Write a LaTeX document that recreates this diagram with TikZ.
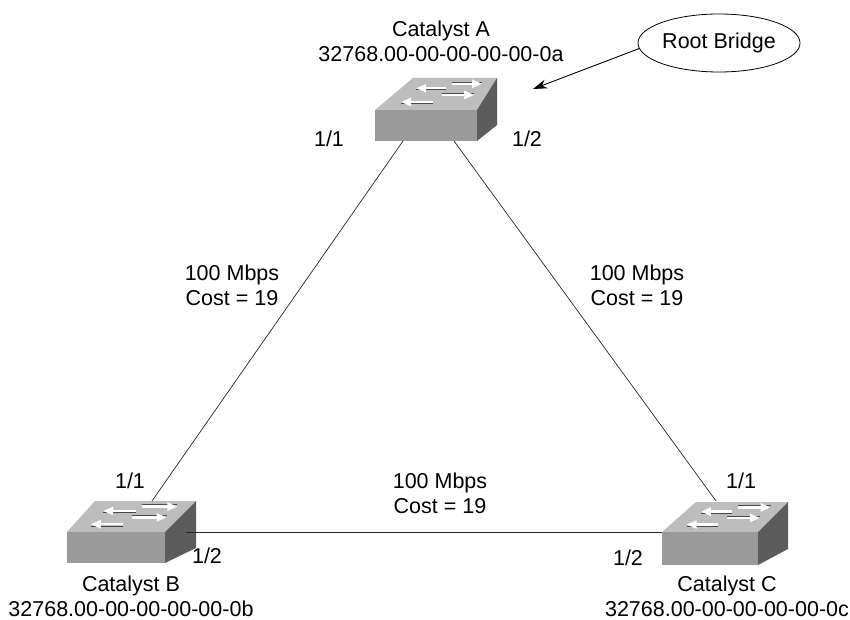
\documentclass[tikz,border=0pt]{standalone}
\usepackage{fontspec}
\setmainfont{Liberation Sans}
\usetikzlibrary{calc,shapes.geometric,arrows.meta}
\definecolor{swtop}{HTML}{BDBDBD}
\definecolor{swfront}{HTML}{9A9A9A}
\definecolor{swside}{HTML}{5C5C5C}
\definecolor{swshadow}{HTML}{4A4A4A}
\tikzset{
  topface/.style={fill=swtop},
  frontface/.style={fill=swfront},
  sideface/.style={fill=swside},
  shadowline/.style={draw=swshadow, line width=0.9pt},
  whitearrow/.style={draw=white, line width=2.4pt, -{Triangle[length=10pt,width=8pt]}},
  link/.style={draw=black!85, line width=0.7pt},
  lbl/.style={font=\fontsize{21.5}{25}\selectfont, inner sep=0pt, align=center},
  rootbox/.style={ellipse, draw, line width=0.8pt, minimum width=162pt, minimum height=58pt, inner sep=0pt, font=\fontsize{21.5}{25}\selectfont},
  pointer/.style={draw=black, line width=0.9pt, -{Stealth[length=14pt,width=9pt]}}
}
% name, utail, utip, v, shadow shift
\newcommand\swarr[5]{%
  \coordinate (t1) at ($(#1FL)!#2!(#1FR)$);
  \coordinate (t2) at ($(#1BL)!#2!(#1BR)$);
  \coordinate (ta) at ($(t1)!#4!(t2)$);
  \coordinate (h1) at ($(#1FL)!#3!(#1FR)$);
  \coordinate (h2) at ($(#1BL)!#3!(#1BR)$);
  \coordinate (tb) at ($(h1)!#4!(h2)$);
  \draw[shadowline] ([yshift=#5]ta) -- ([yshift=#5]tb);
  \draw[whitearrow] (ta) -- (tb);
}
% name, FLx, FLy, FRx, BLx, BLy, BRx, front bottom y, side bottom y
\newcommand\drawswitch[9]{%
  \coordinate (#1FL) at (#2,#3);
  \coordinate (#1FR) at (#4,#3);
  \coordinate (#1BL) at (#5,#6);
  \coordinate (#1BR) at (#7,#6);
  \coordinate (#1FLb) at (#2,#8);
  \coordinate (#1FRb) at (#4,#8);
  \coordinate (#1BRb) at (#7,#9);
  \fill[topface] (#1FL) -- (#1BL) -- (#1BR) -- (#1FR) -- cycle;
  \fill[frontface] (#1FL) -- (#1FR) -- (#1FRb) -- (#1FLb) -- cycle;
  \fill[sideface] (#1FR) -- (#1BR) -- (#1BRb) -- (#1FRb) -- cycle;
  \swarr{#1}{0.50}{0.17}{0.25}{-1.7pt}
  \swarr{#1}{0.50}{0.17}{0.68}{-1.7pt}
  \swarr{#1}{0.52}{0.87}{0.47}{1.7pt}
  \swarr{#1}{0.52}{0.87}{0.82}{1.7pt}
}
\begin{document}
\begin{tikzpicture}[x=1pt,y=-1pt]
\useasboundingbox (0,0) rectangle (850,620);
\fill[white] (0,0) rectangle (850,620);

% switches
\drawswitch{A}{375}{110}{477}{413}{78}{497}{141}{125}
\drawswitch{B}{67}{532}{165}{95}{501}{196}{563}{548}
\drawswitch{C}{662}{532}{758}{696}{502}{788}{565}{549}

% port points
\coordinate (A11) at (403,141);
\coordinate (A12) at (454,141);
\coordinate (B11) at (152,501);
\coordinate (B12) at (186,532.5);
\coordinate (C11) at (716,501);
\coordinate (C12) at (662,532.5);

% links
\draw[link] (A11) -- (B11);
\draw[link] (A12) -- (C11);
\draw[link] (B12) -- (C12);

% switch labels
\node[lbl, anchor=north] (labA) at (441,20.5) {Catalyst A\\32768.00-00-00-00-00-0a};
\node[lbl, anchor=north] (labB) at (131,575.3) {Catalyst B\\32768.00-00-00-00-00-0b};
\node[lbl, anchor=north] (labC) at (727,575.3) {Catalyst C\\32768.00-00-00-00-00-0c};

% link labels
\node[lbl, anchor=north] (costAB) at (232,264.3) {100 Mbps\\Cost = 19};
\node[lbl, anchor=north] (costAC) at (637,264.3) {100 Mbps\\Cost = 19};
\node[lbl, anchor=north] (costBC) at (440,472.3) {100 Mbps\\Cost = 19};

% port labels
\node[lbl, anchor=base] (pA11) at (329,147) {1/1};
\node[lbl, anchor=base] (pA12) at (527,147) {1/2};
\node[lbl, anchor=base] (pB11) at (130,488) {1/1};
\node[lbl, anchor=base] (pB12) at (207,563) {1/2};
\node[lbl, anchor=base] (pC11) at (741,488) {1/1};
\node[lbl, anchor=base] (pC12) at (628,565) {1/2};

% root bridge callout
\node[rootbox] (root) at (719,43) {Root Bridge};
\coordinate (rtip) at (533,89);
\draw[pointer] (root.184) -- (rtip);
\end{tikzpicture}
\end{document}
